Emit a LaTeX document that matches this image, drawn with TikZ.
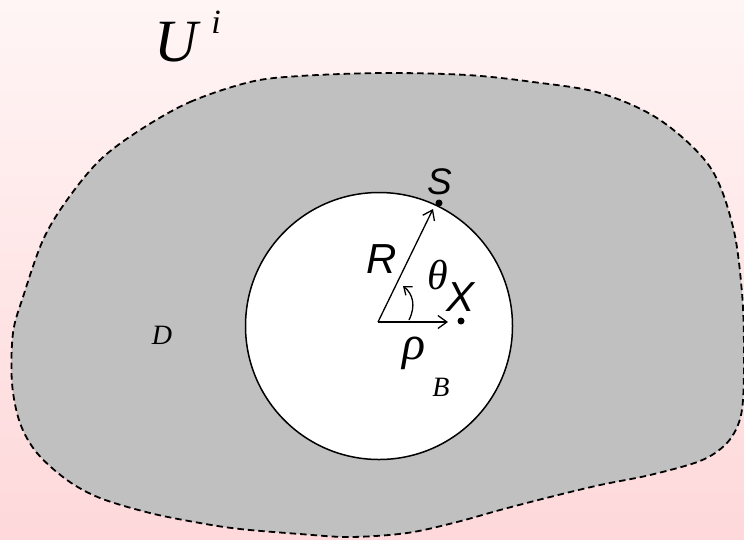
\documentclass[tikz,border=0pt]{standalone}
\usepackage{fontspec}
\setmainfont{Liberation Serif}
\newfontfamily\sansit{Liberation Sans}[ItalicFont={* Italic}]
\usetikzlibrary{arrows.meta}
\definecolor{bgtop}{RGB}{255,245,245}
\definecolor{bgbot}{RGB}{254,216,218}
\definecolor{blobgray}{RGB}{192,192,192}
\tikzset{
  lbl/.style={inner sep=0pt, font=\fontsize{#1}{#1}\selectfont\itshape},
  slbl/.style={inner sep=0pt, font=\fontsize{#1}{#1}\sansit\itshape},
  vec/.style={line width=1.3pt, -{Straight Barb[length=9pt,width=13pt,line width=1.3pt]}},
  pt/.style={circle, fill=black, inner sep=0pt, minimum size=7pt},
}
\begin{document}
\begin{tikzpicture}[x=1pt,y=-1pt]
\useasboundingbox (0,0) rectangle (744,539);
\shade[top color=bgtop, bottom color=bgbot] (0,0) rectangle (744,539);
% region D
\draw[fill=blobgray, line width=1.8pt, dash pattern=on 6.5pt off 4pt]
  plot[smooth cycle, tension=0.55] coordinates {
  (140,130) (190,102) (250,82) (300,76) (383,73) (467,75) (533,82) (600,93)
  (660,120) (710,167) (733,227) (742,293) (744,350) (743,400) (738,425)
  (725,445) (700,461) (650,475) (600,485) (550,497) (500,510) (457,522)
  (407,533) (350,537) (300,534) (240,529) (200,523) (150,513) (100,498)
  (67,480) (37,453) (20,423) (12,383) (13,333) (23,297) (43,240) (67,200)
  (100,160)};
% disk B
\node[circle, draw, fill=white, line width=1.5pt, minimum size=267pt, inner sep=0pt] (disk) at (379,326) {};
\coordinate (O) at (378,322);
\node[pt] (S) at (439,203) {};
\node[pt] (X) at (461,321) {};
\coordinate (Rtip) at (433,209);
\coordinate (rhotip) at (448,322);
\draw[vec] (O) -- (Rtip);
\draw[vec] (O) -- (rhotip);
\coordinate (a0) at (409,320);
\coordinate (a1) at (403,286);
\draw[line width=1.3pt, -{Straight Barb[length=7pt,width=11pt,line width=1.3pt]}]
  (a0) .. controls (416,306) and (413,294) .. (a1);
% labels
\node[lbl=60] (U) at (176,42) {U};
\node[lbl=34] (i) at (216,22) {i};
\node[lbl=28] (D) at (162,335) {D};
\node[lbl=28] (B) at (441,387) {B};
\node[slbl=37] (Slbl) at (440,182) {S};
\node[slbl=42] (Rlbl) at (382,259) {R};
\node[slbl=42] (Xlbl) at (461,297) {X};
\node[lbl=42] (th) at (438,275) {θ};
\node[lbl=48] (rho) at (414,353) {ρ};
\end{tikzpicture}
\end{document}
